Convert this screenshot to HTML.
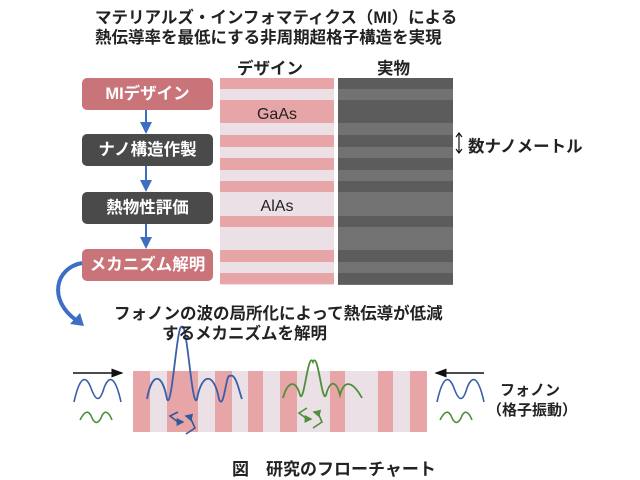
<!DOCTYPE html>
<html><head><meta charset="utf-8"><style>
body{margin:0;width:640px;height:480px;background:#fff;position:relative;overflow:hidden;font-family:"Liberation Sans","Noto Sans CJK JP",sans-serif;}
.t{position:absolute;white-space:nowrap;font-weight:bold;color:#222;}
.box{position:absolute;left:82px;width:131px;height:32px;border-radius:5px;color:#fff;font-weight:bold;font-size:16.5px;text-align:center;line-height:32px;}
.p{background:#c97479;}
.d{background:#4a4a4a;}
</style></head><body>
<div class="t" style="left:95px;top:4px;font-size:16.5px;">マテリアルズ・インフォマティクス（MI）による</div>
<div class="t" style="left:95px;top:24px;font-size:16.5px;">熱伝導率を最低にする非周期超格子構造を実現</div>
<div class="t" style="left:237px;top:55px;font-size:16.5px;">デザイン</div>
<div class="t" style="left:377px;top:55px;font-size:16.5px;">実物</div>

<div class="box p" style="top:78px;">MIデザイン</div>
<div class="box d" style="top:134px;">ナノ構造作製</div>
<div class="box d" style="top:192px;">熱物性評価</div>
<div class="box p" style="top:249px;">メカニズム解明</div>

<svg width="640" height="480" style="position:absolute;left:0;top:0">
<defs><marker id="a" markerWidth="6" markerHeight="6" refX="5" refY="3" orient="auto"><path d="M0,0L6,3L0,6z" fill="#3c6fc4"/></marker>
<marker id="k" markerWidth="8" markerHeight="8" refX="7" refY="4" orient="auto"><path d="M0,1L8,4L0,7z" fill="#111"/></marker>
<marker id="b" markerWidth="5" markerHeight="5" refX="4" refY="2.5" orient="auto"><path d="M0,0L5,2.5L0,5z" fill="#2f5a9a"/></marker>
<marker id="g" markerWidth="5" markerHeight="5" refX="4" refY="2.5" orient="auto"><path d="M0,0L5,2.5L0,5z" fill="#4e8f3a"/></marker></defs>
<g stroke="#3c6fc4" stroke-width="2" marker-end="url(#a)">
<line x1="146" y1="110" x2="146" y2="132"/><line x1="146" y1="166" x2="146" y2="190"/><line x1="146" y1="224" x2="146" y2="247"/></g>
<path d="M82,263 C55,268 48,300 76,320" stroke="#3c6fc4" stroke-width="4" fill="none"/>
<path d="M70,324 L84,326 L80,313 z" fill="#3c6fc4"/>
<rect x="220" y="78" width="114" height="207" fill="#ebe0e6"/>
<g fill="#e8a5a7">
<rect x="220" y="78" width="114" height="11"/><rect x="220" y="100" width="114" height="23"/>
<rect x="220" y="135" width="114" height="12"/><rect x="220" y="158" width="114" height="12"/>
<rect x="220" y="181" width="114" height="11"/><rect x="220" y="216" width="114" height="11"/>
<rect x="220" y="250" width="114" height="12"/><rect x="220" y="273" width="114" height="11"/></g>
<rect x="338" y="78" width="115" height="207" fill="#727272"/>
<g fill="#5c5c5c">
<rect x="338" y="78" width="115" height="11"/><rect x="338" y="100" width="115" height="23"/>
<rect x="338" y="135" width="115" height="12"/><rect x="338" y="158" width="115" height="12"/>
<rect x="338" y="181" width="115" height="11"/><rect x="338" y="216" width="115" height="11"/>
<rect x="338" y="250" width="115" height="12"/><rect x="338" y="273" width="115" height="11"/></g>
<text x="277" y="119" font-size="16" text-anchor="middle" fill="#222" font-family="Liberation Sans">GaAs</text>
<text x="277" y="211" font-size="16" text-anchor="middle" fill="#222" font-family="Liberation Sans">AlAs</text>
<g stroke="#111" stroke-width="1.2"><line x1="459" y1="134" x2="459" y2="152"/><path d="M456,137L459,133L462,137M456,149L459,153L462,149" fill="none"/></g>
<rect x="133" y="371" width="294" height="61" fill="#ebe0e6"/>
<g fill="#e8a5a7">
<rect x="133" y="371" width="17" height="61"/><rect x="167" y="371" width="31" height="61"/>
<rect x="215" y="371" width="17" height="61"/><rect x="248" y="371" width="15" height="61"/>
<rect x="280" y="371" width="17" height="61"/><rect x="330" y="371" width="15" height="61"/>
<rect x="378" y="371" width="15" height="61"/><rect x="410" y="371" width="17" height="61"/></g>
<line x1="73" y1="373" x2="122" y2="373" stroke="#111" stroke-width="1.5" marker-end="url(#k)"/>
<line x1="484" y1="373" x2="436" y2="373" stroke="#111" stroke-width="1.5" marker-end="url(#k)"/>
<g fill="none" stroke-width="1.6">
<path d="M74,402 C80,375 86,375 91,388 C96,402 100,402 104,388 C109,375 115,375 121,402" stroke="#3a5fa8"/>
<path d="M437,402 C443,375 449,375 454,388 C459,402 463,402 467,388 C472,375 478,375 484,402" stroke="#3a5fa8"/>
<path d="M80,420 C85,410 89,410 92,418 C95,424 98,424 101,418 C104,410 108,410 112,420" stroke="#4e8f3a"/>
<path d="M440,420 C445,410 449,410 452,418 C455,424 458,424 461,418 C464,410 468,410 472,420" stroke="#4e8f3a"/>
<path d="M147,399 C152,372 162,372 167,399 C172,412 177,320 182,327 C187,320 192,412 197,399 C202,372 214,372 219,399 C224,412 226,372 230,376 C236,372 240,395 242,399" stroke="#3a5fa8" stroke-width="1.8"/>
<path d="M283,398 C288,380 296,380 300,395 C304,405 308,350 313,362 C318,350 322,405 326,395 C330,380 336,380 340,395 C344,380 352,380 362,398" stroke="#4e8f3a" stroke-width="1.8"/>
<path d="M178,412 L170,416 L178,422 L183,422" stroke="#2f5a9a" marker-end="url(#b)"/>
<path d="M186,434 L195,428 L190,417 L186,416" stroke="#2f5a9a" marker-end="url(#b)"/>
<path d="M307,408 L299,413 L307,419 L311,419" stroke="#4e8f3a" marker-end="url(#g)"/>
<path d="M313,428 L322,422 L318,413 L314,412" stroke="#4e8f3a" marker-end="url(#g)"/>
</g>
</svg>
<div class="t" style="left:468px;top:133px;font-size:16.5px;">数ナノメートル</div>
<div class="t" style="left:114px;top:300px;font-size:16.5px;">フォノンの波の局所化によって熱伝導が低減</div>
<div class="t" style="left:162px;top:320px;font-size:16.5px;">するメカニズムを解明</div>
<div class="t" style="left:500px;top:379px;font-size:15px;">フォノン</div>
<div class="t" style="left:487px;top:399px;font-size:15px;">（格子振動）</div>
<div class="t" style="left:232px;top:455px;font-size:17px;">図　研究のフローチャート</div>
</body></html>
